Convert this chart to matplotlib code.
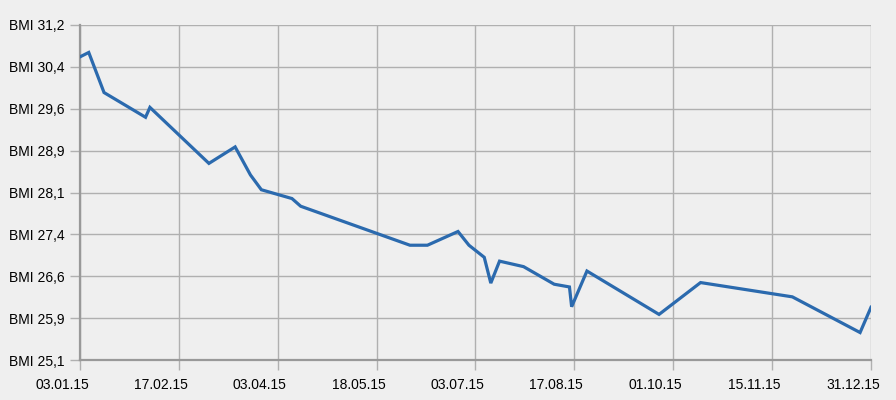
import numpy as np
import pandas as pd
import matplotlib
matplotlib.use('Agg')
import matplotlib.pyplot as plt
import matplotlib.dates as mdates
from matplotlib.transforms import ScaledTranslation

# BMI readings
dates = ['2015-01-03', '2015-01-07', '2015-01-14', '2015-02-02', '2015-02-04',
         '2015-03-03', '2015-03-15', '2015-03-22', '2015-03-27', '2015-04-10',
         '2015-04-14', '2015-06-03', '2015-06-11', '2015-06-25', '2015-06-30',
         '2015-07-07', '2015-07-10', '2015-07-14', '2015-07-25', '2015-08-08',
         '2015-08-15', '2015-08-16', '2015-08-23', '2015-09-25', '2015-10-14',
         '2015-11-25', '2015-12-26', '2015-12-31']
bmi = [30.62, 30.70, 29.97, 29.52, 29.70,
       28.68, 28.98, 28.47, 28.20, 28.04,
       27.90, 27.19, 27.19, 27.44, 27.19,
       26.97, 26.50, 26.90, 26.80, 26.48,
       26.43, 26.07, 26.72, 25.93, 26.51,
       26.25, 25.60, 26.06]

x_labels = ['03.01.15', '17.02.15', '03.04.15', '18.05.15', '03.07.15',
            '17.08.15', '01.10.15', '15.11.15', '31.12.15']
y_labels = ['BMI 25,1', 'BMI 25,9', 'BMI 26,6', 'BMI 27,4', 'BMI 28,1',
            'BMI 28,9', 'BMI 29,6', 'BMI 30,4', 'BMI 31,2']
y_min, y_max = 25.1, 31.2

plt.rcParams['font.family'] = ['Liberation Sans', 'DejaVu Sans']

bg = '#efefef'
fig = plt.figure(figsize=(8.96, 4), dpi=100, facecolor=bg)
ax = fig.add_axes([80 / 896, 40 / 400, 791 / 896, 335 / 400], facecolor=bg)

t = mdates.date2num(pd.to_datetime(dates))
ax.plot(t, bmi, color='#2b6aae', lw=2.3, solid_joinstyle='miter', zorder=3)

x0 = mdates.date2num(pd.Timestamp('2015-01-03'))
x1 = mdates.date2num(pd.Timestamp('2015-12-31'))
ax.set_xlim(x0, x1)
ax.set_ylim(y_min, y_max)
ax.set_xticks(np.linspace(x0, x1, len(x_labels)))
ax.set_xticklabels(x_labels)
ax.set_yticks(np.linspace(y_min, y_max, len(y_labels)))
ax.set_yticklabels(y_labels)

ax.grid(True, color='#b0b0b0', lw=1)
ax.set_axisbelow(True)
for s in ['top', 'right']:
    ax.spines[s].set_visible(False)
for s in ['left', 'bottom']:
    ax.spines[s].set_color('#999999')
    ax.spines[s].set_linewidth(1.6)
ax.tick_params(axis='x', length=7, width=1, color='#b0b0b0', pad=6, labelsize=10)
ax.tick_params(axis='y', length=7, width=1, color='#b0b0b0', pad=4, labelsize=10)

# date labels sit a bit left of their ticks
shift = ScaledTranslation(-18 / 100, 0, fig.dpi_scale_trans)
for lab in ax.get_xticklabels():
    lab.set_transform(lab.get_transform() + shift)

fig.savefig('out.png', dpi=100, facecolor=bg)
